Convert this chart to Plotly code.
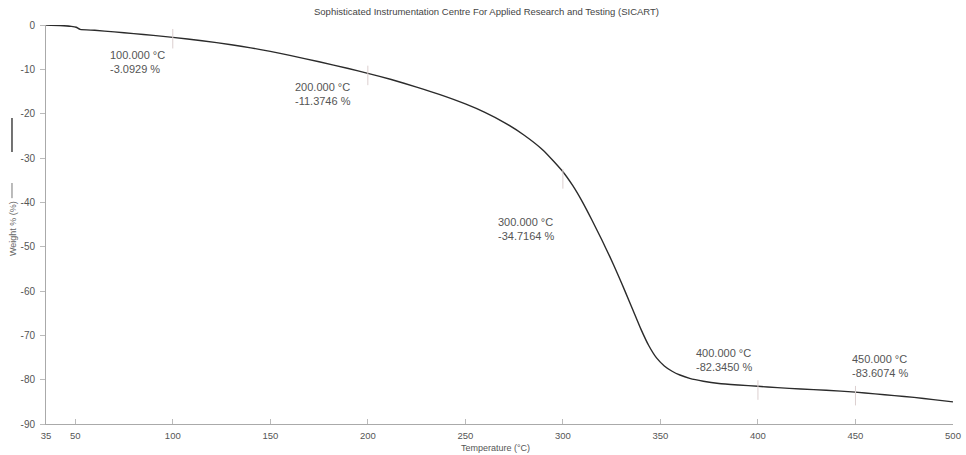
import plotly.graph_objects as go

temperature = [35, 42, 48, 50.5, 52.5, 60, 70, 80, 90, 100, 115, 130, 140, 150, 160, 175, 190, 200,
               212, 225, 237, 250, 260, 270, 280, 290, 300, 305, 310, 315, 320, 324, 328,
               332, 336, 340, 344, 348, 352, 356, 360, 365, 372, 380, 390, 400, 410, 422, 435, 450,
               460, 470, 480, 490, 500]
weight = [0.0, -0.1, -0.3, -0.5, -1.0, -1.2, -1.55, -1.95, -2.35, -2.8, -3.55, -4.45, -5.15, -5.95,
          -6.85, -8.3, -9.8, -10.9, -12.3, -14.0, -15.7, -17.8, -19.7, -22.0, -24.8, -28.3,
          -33.1, -36.2, -39.9, -44.1, -48.5, -52.2, -56.1, -60.2, -64.4, -68.6, -72.3, -75.1,
          -76.9, -78.1, -78.95, -79.7, -80.35, -80.85, -81.2, -81.5, -81.8, -82.1, -82.4, -82.8,
          -83.2, -83.6, -84.0, -84.5, -85.0]

marker_temps = [100, 200, 300, 400, 450]
marker_weights = [-3.0929, -11.3746, -34.7164, -82.3450, -83.6074]
label_texts = ["100.000 °C<br>-3.0929 %", "200.000 °C<br>-11.3746 %", "300.000 °C<br>-34.7164 %",
               "400.000 °C<br>-82.3450 %", "450.000 °C<br>-83.6074 %"]
label_x = [66.8, 161.8, 265.8, 367.3, 447.3]
label_y = [-8.4, -15.6, -46.0, -75.6, -77.0]

x_ticks = [35, 50, 100, 150, 200, 250, 300, 350, 400, 450, 500]
y_ticks = [0, -10, -20, -30, -40, -50, -60, -70, -80, -90]

title_text = "Sophisticated Instrumentation Centre For Applied Research and Testing (SICART)"
x_title = "Temperature (°C)"
y_title = "Weight % (%)"

FONT = "Liberation Sans, Arial, sans-serif"

fig = go.Figure()
fig.add_trace(go.Scatter(x=temperature, y=weight, mode="lines",
                         line=dict(color="#2b2b2b", width=1.4, shape="spline", smoothing=0.5),
                         hoverinfo="skip", showlegend=False))

shapes = []
for t, w in zip(marker_temps, marker_weights):
    shapes.append(dict(type="line", xref="x", yref="y", x0=t, x1=t, y0=w + 2.2, y1=w - 2.2,
                       line=dict(color="#dccfcf", width=1)))
# y-axis title legend line segments
shapes.append(dict(type="line", xref="paper", yref="paper", x0=-0.0375, x1=-0.0375,
                   y0=0.767, y1=0.682, line=dict(color="#444", width=1.5)))
shapes.append(dict(type="line", xref="paper", yref="paper", x0=-0.0375, x1=-0.0375,
                   y0=0.604, y1=0.566, line=dict(color="#777", width=1)))

annotations = []
for lx, ly, txt in zip(label_x, label_y, label_texts):
    annotations.append(dict(x=lx, y=ly, xref="x", yref="y", text=txt, showarrow=False,
                            xanchor="left", yanchor="middle", align="left",
                            font=dict(family=FONT, size=11, color="#555")))
annotations.append(dict(x=0.486, y=1.0326, xref="paper", yref="paper", text=title_text,
                        showarrow=False, xanchor="center", yanchor="middle",
                        font=dict(family=FONT, size=9.5, color="#444")))
annotations.append(dict(x=0.496, y=-0.0614, xref="paper", yref="paper", text=x_title,
                        showarrow=False, xanchor="center", yanchor="middle", borderpad=0,
                        font=dict(family=FONT, size=9, color="#555")))
annotations.append(dict(x=-0.0364, y=0.491, xref="paper", yref="paper", text=y_title,
                        showarrow=False, xanchor="center", yanchor="middle", textangle=-90,
                        font=dict(family=FONT, size=9, color="#666")))

fig.update_layout(
    width=966, height=455,
    margin=dict(l=46, r=13, t=25, b=31, autoexpand=False),
    paper_bgcolor="white", plot_bgcolor="white",
    shapes=shapes, annotations=annotations,
    xaxis=dict(range=[35, 500], tickvals=x_ticks, ticktext=[str(v) for v in x_ticks],
               automargin=False,
               showgrid=False, zeroline=False, showline=True, linecolor="#aaa", linewidth=1,
               ticks="inside", ticklen=5, tickcolor="#bbb", ticklabelstandoff=3,
               tickfont=dict(family=FONT, size=9.5, color="#555")),
    yaxis=dict(range=[-90, 0], tickvals=y_ticks, ticktext=[str(v) for v in y_ticks],
               automargin=False,
               showgrid=False, zeroline=False, showline=True, linecolor="#aaa", linewidth=1,
               ticks="outside", ticklen=5, tickcolor="#bbb", ticklabelstandoff=3,
               tickfont=dict(family=FONT, size=10, color="#555")),
)

fig.write_html("out.html")
